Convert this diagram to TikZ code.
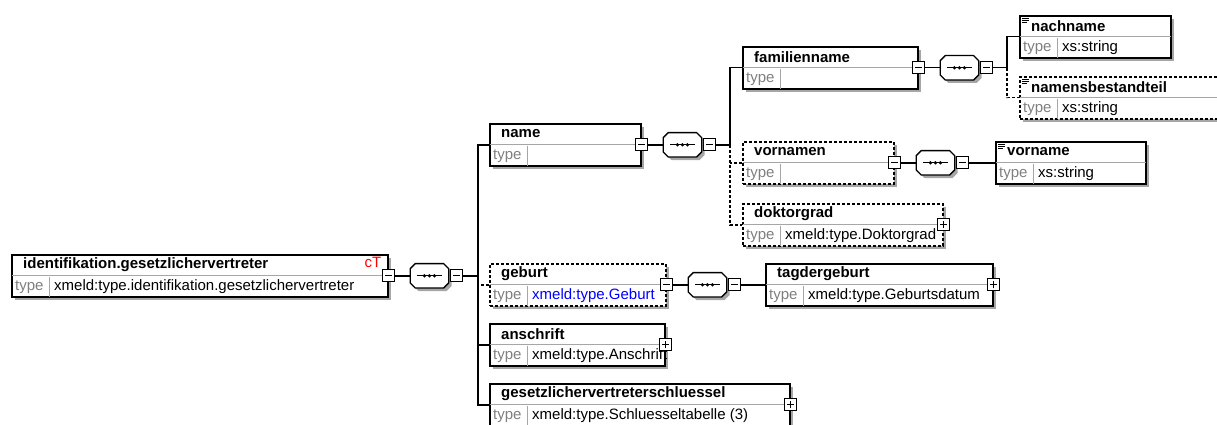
\documentclass[tikz,border=0pt]{standalone}
\usepackage{fontspec}
\setmainfont{Liberation Sans}
\usetikzlibrary{positioning,shadows}

\tikzset{
  elembox/.style={draw, fill=white, line width=1.6pt, minimum height=42pt,
    inner sep=0pt, anchor=north west,
    drop shadow={shadow xshift=3pt, shadow yshift=-3pt, fill=black!35, opacity=1}},
  opt/.style={dash pattern=on 3pt off 2pt},
  rowline/.style={draw=black!35, line width=1pt, shorten <=0.8pt, shorten >=0.8pt},
  titletext/.style={anchor=west, inner sep=0pt, font=\bfseries},
  typetext/.style={anchor=west, inner sep=0pt, text=black!50},
  valtext/.style={anchor=west, inner sep=0pt},
  conn/.style={line width=1.4pt},
  minusbox/.style={draw, fill=white, line width=1.3pt, minimum size=12pt, inner sep=0pt,
    path picture={\draw[line width=1.3pt] ([xshift=2.5pt]path picture bounding box.west)
      -- ([xshift=-2.5pt]path picture bounding box.east);}},
  plusbox/.style={draw, fill=white, line width=1.3pt, minimum size=12pt, inner sep=0pt,
    path picture={\draw[line width=1.3pt] ([xshift=2.5pt]path picture bounding box.west)
      -- ([xshift=-2.5pt]path picture bounding box.east)
      ([yshift=2.5pt]path picture bounding box.south)
      -- ([yshift=-2.5pt]path picture bounding box.north);}},
  seqbox/.style={minimum width=38pt, minimum height=24pt, inner sep=0pt},
}

% element box: [style] name, top left corner, width, title, type
\newcommand{\elem}[6][]{%
  \node[elembox, minimum width=#4, #1] (#2) at (#3) {};
  \draw[rowline] (#2.west) -- (#2.east);
  \draw[rowline] ([xshift=38pt]#2.west) -- ([xshift=38pt]#2.south west);
  \node[titletext] (#2-title) at ([xshift=12pt,yshift=-11pt]#2.north west) {#5};
  \node[typetext] (#2-type) at ([xshift=4pt,yshift=10.5pt]#2.south west) {type};
  \node[valtext] (#2-val) at ([xshift=43pt,yshift=10.5pt]#2.south west) {#6};
}
% octagon outline of a sequence node
\newcommand{\octpath}[1]{([xshift=5pt]#1.north west) -- ([xshift=-5pt]#1.north east)
  -- ([yshift=-5pt]#1.north east) -- ([yshift=5pt]#1.south east)
  -- ([xshift=-5pt]#1.south east) -- ([xshift=5pt]#1.south west)
  -- ([yshift=5pt]#1.south west) -- ([yshift=-5pt]#1.north west) -- cycle}
% sequence: name, placement
\newcommand{\seqsym}[2]{%
  \node[seqbox, #2] (#1) {};
  \fill[black!35, transform canvas={shift={(3pt,-3pt)}}] \octpath{#1};
  \filldraw[fill=white, line width=1.3pt] \octpath{#1};
  \draw[line width=1.3pt] ([xshift=7pt]#1.west) -- ([xshift=-7pt]#1.east);
  \foreach \d in {-5,0,5}
    \fill ([xshift=\d pt]#1.center) circle (1.8pt);
}

\begin{document}
\fontsize{15}{18}\selectfont
\begin{tikzpicture}[x=1pt,y=-1pt]
  \useasboundingbox (0,0) rectangle (1217,425);

  \elem{root}{11,254}{376pt}{identifikation.gesetzlichervertreter}
    {xmeld:type.identifikation.gesetzlichervertreter}
  \elem{name}{489,123}{151pt}{name}{}
  \elem{fam}{742,46}{175pt}{familienname}{}
  \elem{nachname}{1019,15}{151pt}{nachname}{xs:string}
  \elem[opt]{namen}{1019,76}{210pt}{namensbestandteil}{xs:string}
  \elem[opt]{vornamen}{742,141}{151pt}{vornamen}{}
  \elem{vorname}{995,141}{150pt}{vorname}{xs:string}
  \elem[opt]{dok}{742,203}{200pt}{doktorgrad}{xmeld:type.Doktorgrad}
  \elem[opt]{geburt}{489,263}{176pt}{geburt}{\textcolor{blue}{xmeld:type.Geburt}}
  \elem{tag}{765,263}{227pt}{tagdergeburt}{xmeld:type.Geburtsdatum}
  \elem{ansch}{489,323}{175pt}{anschrift}{xmeld:type.Anschrift}
  \elem{schl}{489,383}{300pt}{gesetzlichervertreterschluessel}
    {xmeld:type.Schluesseltabelle (3)}

  \node[text=red, anchor=north east, inner sep=0pt] (root-ct)
    at ([xshift=-7pt,yshift=-3pt]root.north east) {cT};
  \foreach \e in {nachname,namen,vorname}
    \draw[line width=0.8pt] ([xshift=3pt,yshift=-3pt]\e.north west) -- ++(7,0)
      ([xshift=3pt,yshift=-5pt]\e.north west) -- ++(7,0)
      ([xshift=3pt,yshift=-7pt]\e.north west) -- ++(5,0);

  % root sequence
  \node[minusbox] (root-m) at (root.east) {};
  \seqsym{seq1}{right=15pt of root-m}
  \node[minusbox, right=1pt of seq1] (seq1-m) {};
  \coordinate[right=15pt of seq1-m] (tr1);
  \draw[conn] (root-m) -- (seq1);
  \draw[conn] (seq1-m) -- (tr1);
  \draw[conn] (name.west) -| (tr1) |- (schl.west);
  \draw[conn] (tr1) |- (ansch.west);
  \draw[conn, opt] (geburt.west) -- (tr1 |- geburt.west);

  % name sequence
  \node[minusbox] (name-m) at (name.east) {};
  \seqsym{seq2}{right=15pt of name-m}
  \node[minusbox, right=1pt of seq2] (seq2-m) {};
  \coordinate[right=14pt of seq2-m] (tr2);
  \draw[conn] (name-m) -- (seq2);
  \draw[conn] (seq2-m) -- (tr2);
  \draw[conn] (fam.west) -| (tr2);
  \draw[conn, opt] (tr2) |- (dok.west);
  \draw[conn, opt] (vornamen.west) -- (tr2 |- vornamen.west);

  % familienname sequence
  \node[minusbox] (fam-m) at (fam.east) {};
  \seqsym{seq3}{right=15pt of fam-m}
  \node[minusbox, right=1pt of seq3] (seq3-m) {};
  \coordinate[right=14pt of seq3-m] (tr3);
  \draw[conn] (fam-m) -- (seq3);
  \draw[conn] (seq3-m) -- (tr3);
  \draw[conn] (nachname.west) -| (tr3);
  \draw[conn, opt] (tr3) |- (namen.west);

  % vornamen sequence
  \node[minusbox] (vornamen-m) at (vornamen.east) {};
  \seqsym{seq4}{right=15pt of vornamen-m}
  \node[minusbox, right=1pt of seq4] (seq4-m) {};
  \draw[conn] (vornamen-m) -- (seq4);
  \draw[conn] (seq4-m) -- (vorname);

  % geburt sequence
  \node[minusbox] (geburt-m) at (geburt.east) {};
  \seqsym{seq5}{right=15pt of geburt-m}
  \node[minusbox, right=1pt of seq5] (seq5-m) {};
  \draw[conn] (geburt-m) -- (seq5);
  \draw[conn] (seq5-m) -- (tag);

  \foreach \e in {dok,tag,ansch,schl}
    \node[plusbox] (\e-p) at (\e.east) {};
\end{tikzpicture}
\end{document}
